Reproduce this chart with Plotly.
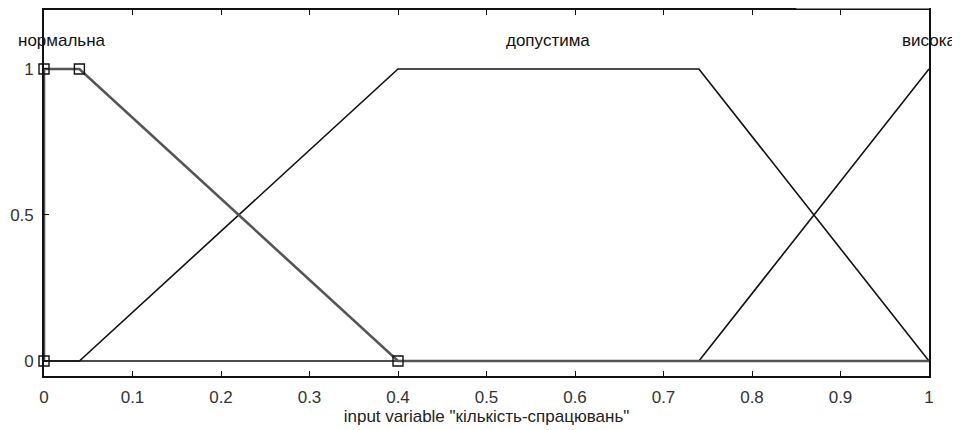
import plotly.graph_objects as go

# Membership functions of input variable "кількість-спрацювань"
mf_names = ["нормальна", "допустима", "висока"]
norm_x = [0, 0, 0.04, 0.4, 1]
norm_y = [0, 1, 1, 0, 0]
norm_marker_x = [0, 0, 0.04, 0.4]
norm_marker_y = [0, 1, 1, 0]
dop_x = [0, 0.04, 0.4, 0.74, 1]
dop_y = [0, 0, 1, 1, 0]
vys_x = [0, 0.74, 1]
vys_y = [0, 0, 1]
label_x = [0.02, 0.57, 1.0]
label_y = [1.096, 1.096, 1.096]
x_ticks = [0, 0.1, 0.2, 0.3, 0.4, 0.5, 0.6, 0.7, 0.8, 0.9, 1]
x_tick_text = ["0", "0.1", "0.2", "0.3", "0.4", "0.5", "0.6", "0.7", "0.8", "0.9", "1"]
y_ticks = [0, 0.5, 1]
y_tick_text = ["0", "0.5", "1"]

FONT = "Liberation Sans, Arial, sans-serif"

fig = go.Figure()
fig.add_trace(go.Scatter(x=dop_x, y=dop_y, mode="lines",
                         line=dict(color="#111111", width=1.6), showlegend=False, cliponaxis=False))
fig.add_trace(go.Scatter(x=vys_x, y=vys_y, mode="lines",
                         line=dict(color="#111111", width=1.6), showlegend=False, cliponaxis=False))
fig.add_trace(go.Scatter(x=norm_x, y=norm_y, mode="lines",
                         line=dict(color="#555555", width=2.6), showlegend=False, cliponaxis=False))
fig.add_trace(go.Scatter(x=norm_marker_x, y=norm_marker_y, mode="markers",
                         marker=dict(symbol="square-open", size=10, color="#111111",
                                     line=dict(width=1.4)),
                         showlegend=False, cliponaxis=False))

for name, lx, ly in zip(mf_names, label_x, label_y):
    fig.add_annotation(x=lx, y=ly, xref="x", yref="y", text=name, showarrow=False,
                       xanchor="center", yanchor="middle",
                       font=dict(family=FONT, size=17, color="#111111"))

fig.update_layout(
    width=952, height=422,
    margin=dict(l=36, r=31, t=2, b=54, autoexpand=False),
    paper_bgcolor="white", plot_bgcolor="white",
    font=dict(family=FONT, size=17, color="#333333"),
    xaxis=dict(range=[0, 1], tickvals=x_ticks, ticktext=x_tick_text,
               ticks="inside", ticklen=5, tickcolor="#111111", tickwidth=1,
               showline=True, linecolor="#111111", linewidth=1.6, mirror="ticks",
               showgrid=False, zeroline=False, layer="above traces",
               ticklabelstandoff=5,
               title=dict(text='input variable "кількість-спрацювань"',
                          standoff=2, font=dict(size=17, color="#222222"))),
    yaxis=dict(range=[-0.0514, 1.202], tickvals=y_ticks, ticktext=y_tick_text,
               ticks="inside", ticklen=5, tickcolor="#111111", tickwidth=1,
               showline=True, linecolor="#111111", linewidth=1.6, mirror=True,
               showgrid=False, zeroline=False, layer="above traces",
               ticklabelstandoff=5),
)

# small artifact line above the top-right of the frame
fig.add_shape(type="line", xref="paper", yref="paper", x0=0.85, x1=1.0, y0=1.004, y1=1.004,
              line=dict(color="#888888", width=1))

fig.write_html("out.html")
